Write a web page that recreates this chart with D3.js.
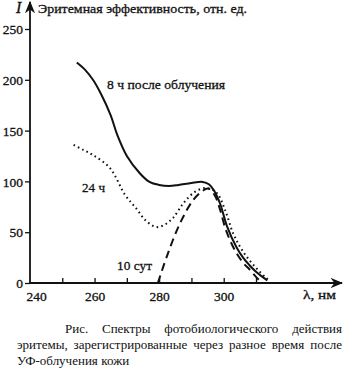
<!DOCTYPE html>
<html lang="ru">
<head>
<meta charset="UTF-8">
<title>Эритема</title>
<script src="https://d3js.org/d3.v7.min.js"></script>
<style>
  body { margin: 0; background: #fff; }
  svg text { font-family: "Liberation Serif", "Times New Roman", "DejaVu Serif", serif; fill: #111; }
  .lbl { stroke: #111; stroke-width: 0.3; }
</style>
</head>
<body>
<svg width="354" height="374"></svg>
<script>
// values (lambda in nm, relative efficiency)
let curve8h = [[254.5,217],[257,210],[259.5,200],[262,186],[265,165],[267,146],[270,125],[274,108],[277,99.5],[280,96.5],[283,95.5],[286,96.5],[290,98.5],[293.5,99.5],[295.5,97],[297,91],[299,77],[301,56],[304,35],[306,25],[308,17.5],[310,11],[312,6],[313.5,2.5]];
let curve24h = [[253.5,136],[256.5,131],[259.5,126],[264.8,113],[269.4,87],[273,73],[276,61],[279.3,55],[282,58],[284.3,64],[287.4,78],[291,89.5],[294.7,93.5],[297.9,88.5],[300.4,72],[302.9,49],[305,36],[307.2,25.5],[310,15],[312.8,6],[314.2,2]];
let curve10d = [[279.6,0],[282.7,29],[286.5,59],[290.5,81.5],[293,89.5],[295.1,93],[297.1,87],[298.8,73],[300.7,52],[303.5,32],[306,20],[308.1,13],[310,6],[311.2,2]];

let xTicks = [240, 250, 260, 270, 280, 290, 300, 310];
let xLabels = [240, 260, 280, 300];
let yTicks = [0, 50, 100, 150, 200, 250];

let serif = "Liberation Serif, Times New Roman, DejaVu Serif, serif";

let svg = d3.select("svg");
svg.append("rect").attr("width", 354).attr("height", 374).attr("fill", "#fff");

let x = d3.scaleLinear().domain([240, 310]).range([30, 256]);
let y = d3.scaleLinear().domain([0, 250]).range([283, 29]);

// axes lines with arrows
let defs = svg.append("defs");
defs.append("marker").attr("id", "arr")
  .attr("viewBox", "0 0 10 10").attr("refX", 9).attr("refY", 5)
  .attr("markerWidth", 7).attr("markerHeight", 7).attr("orient", "auto")
  .append("path").attr("d", "M0,1 L10,5 L0,9 L3,5 Z").attr("fill", "#111");

svg.append("line").attr("x1", x(240)).attr("y1", y(0)).attr("x2", 342).attr("y2", y(0))
  .attr("stroke", "#111").attr("stroke-width", 1.8).attr("marker-end", "url(#arr)");
svg.append("line").attr("x1", x(240)).attr("y1", y(0)).attr("x2", x(240)).attr("y2", 2)
  .attr("stroke", "#111").attr("stroke-width", 1.8).attr("marker-end", "url(#arr)");

// y axis ticks
let yAxis = d3.axisLeft(y).tickValues(yTicks).tickSize(5).tickPadding(2).tickFormat(d3.format("d"));
let gY = svg.append("g").attr("transform", `translate(${x(240)},0)`).call(yAxis);
gY.attr("font-family", serif).attr("font-size", 13.5);
gY.select(".domain").remove();
gY.selectAll(".tick line").attr("stroke", "#111").attr("stroke-width", 1.3);
gY.selectAll(".tick text").attr("dy", "0.35em").attr("class", "lbl");

// x axis ticks (pointing up)
let xAxis = d3.axisBottom(x).tickValues(xTicks).tickSize(-5).tickPadding(8)
  .tickFormat(d => xLabels.includes(d) ? d : "");
let gX = svg.append("g").attr("transform", `translate(0,${y(0)})`).call(xAxis);
gX.attr("font-family", serif).attr("font-size", 13.5);
gX.select(".domain").remove();
gX.selectAll(".tick line").attr("stroke", "#111").attr("stroke-width", 1.3);
gX.selectAll(".tick text").attr("class", "lbl");
gX.selectAll(".tick").filter(d => d === 240).select("line").remove();
gX.selectAll(".tick").filter(d => d === 240).select("text").attr("dx", 6);

// curves
let line = d3.line().x(d => x(d[0])).y(d => y(d[1])).curve(d3.curveCatmullRom.alpha(0.5));
svg.append("path").datum(curve8h).attr("d", line)
  .attr("fill", "none").attr("stroke", "#111").attr("stroke-width", 2);
svg.append("path").datum(curve24h).attr("d", line)
  .attr("fill", "none").attr("stroke", "#111").attr("stroke-width", 2)
  .attr("stroke-dasharray", "1.6,3.2");
svg.append("path").datum(curve10d).attr("d", line)
  .attr("fill", "none").attr("stroke", "#111").attr("stroke-width", 2)
  .attr("stroke-dasharray", "8,5");

// labels (widths)
let labels = [
  { t: "Эритемная эффективность, отн. ед.", x: 38, y: 13, s: 13.5, w: 209 },
  { t: "8 ч после облучения", x: 107, y: 89, s: 13.5, w: 118 },
  { t: "24 ч", x: 82, y: 192, s: 13.5, w: 23 },
  { t: "10 сут", x: 117, y: 270, s: 13.5, w: 35 },
  { t: "λ, нм", x: 303, y: 299, s: 13.5, w: 33 }
];
svg.append("text").attr("x", 16).attr("y", 13).attr("font-style", "italic")
  .attr("font-family", serif).attr("font-size", 16).attr("class", "lbl").text("I");
labels.forEach(l => {
  svg.append("text").attr("x", l.x).attr("y", l.y).attr("font-size", l.s)
    .attr("font-family", serif).attr("class", "lbl")
    .attr("textLength", l.w).attr("lengthAdjust", "spacingAndGlyphs").text(l.t);
});

// caption, justified by spacing words
let caption = [
  { words: "Рис. Спектры фотобиологического действия".split(" "), x0: 65, x1: 342, y: 333, justify: true },
  { words: "эритемы, зарегистрированные через разное время после".split(" "), x0: 17, x1: 342, y: 349, justify: true },
  { words: "УФ-облучения кожи".split(" "), x0: 17, x1: 342, y: 365, justify: false }
];
let cap = svg.append("g").attr("font-size", 13).attr("font-family", serif);
caption.forEach(ln => {
  let nodes = ln.words.map(w => cap.append("text").attr("y", ln.y).text(w));
  let widths = nodes.map(n => n.node().getComputedTextLength());
  let total = d3.sum(widths);
  let gap = ln.justify ? (ln.x1 - ln.x0 - total) / (ln.words.length - 1) : 3.5;
  let cx = ln.x0;
  nodes.forEach((n, i) => { n.attr("x", cx); cx += widths[i] + gap; });
});
</script>
</body>
</html>
